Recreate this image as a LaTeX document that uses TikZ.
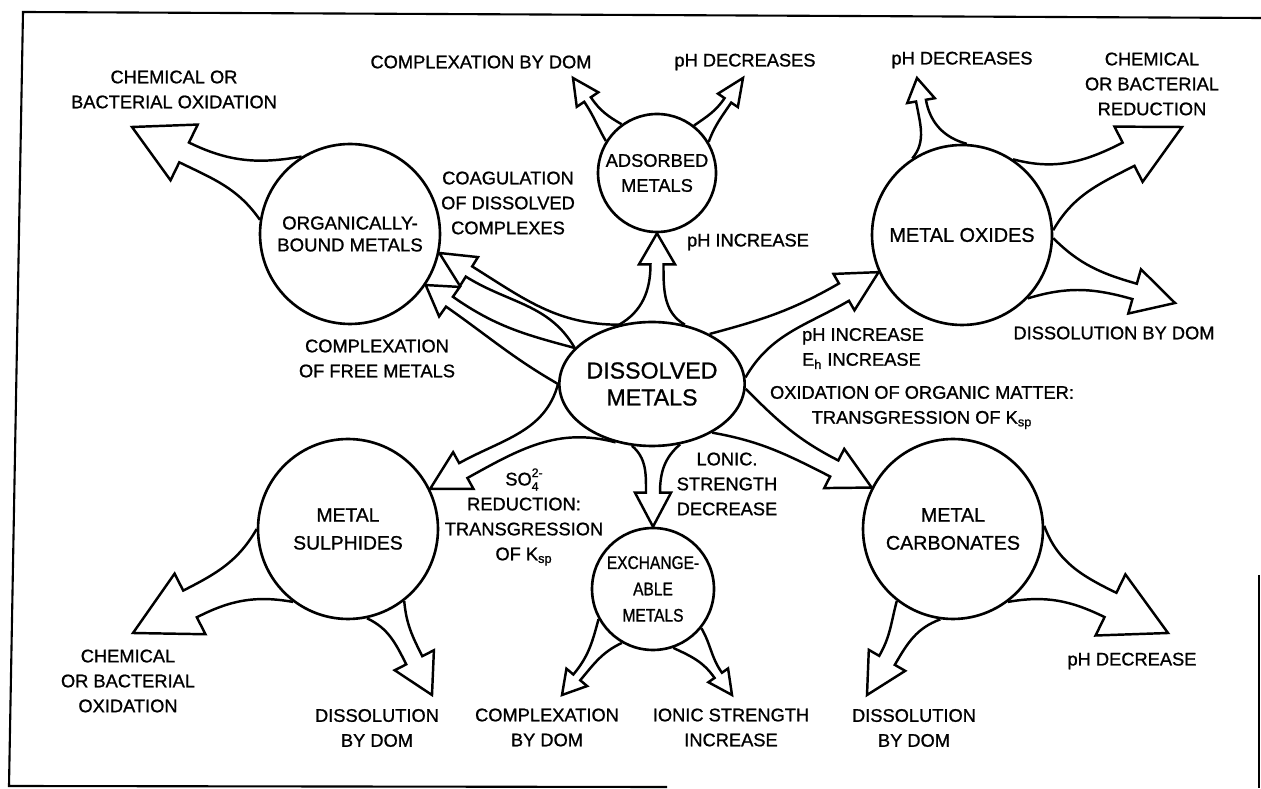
\documentclass[tikz,border=0pt]{standalone}
\usepackage{fontspec}
\setmainfont{Liberation Sans}[FakeBold=1]
\newfontfamily\narrowsans{Liberation Sans}[FakeStretch=0.85, FakeBold=1]
\usetikzlibrary{positioning,calc,shapes.geometric}

\tikzset{
  tipsize/.code args={#1/#2/#3}{\def\ahl{#1}\def\ahw{#2}\def\asw{#3}},
  bigarrow/.style={line width=1.4pt, line join=miter},
  pool/.style={circle, draw, line width=1.5pt, inner sep=0pt, align=center},
  lab/.style={align=center, inner sep=1pt},
}

% hollow arrow: [size] src, left flare angle, its out angle, right flare angle, its out angle, tip, direction
\newcommand{\fatarrow}[8][]{%
  \begin{scope}[#1]
    \pgfmathsetmacro\fdb{#8+180}%
    \pgfmathsetmacro\fdl{#8+90}%
    \pgfmathsetmacro\fdr{#8-90}%
    \path (#7) ++(\fdb:\ahl) coordinate (c);
    \draw[bigarrow] (#2.#3) to[out=#4,in=\fdb] ($(c)+(\fdl:\asw)$) -- ($(c)+(\fdl:\ahw)$)
      -- (#7) -- ($(c)+(\fdr:\ahw)$) -- ($(c)+(\fdr:\asw)$) to[out=\fdb,in=#6] (#2.#5);
  \end{scope}}

\begin{document}
\begin{tikzpicture}[x=0.02cm, y=0.02cm, font=\fontsize{10.4}{14.2}\selectfont]
  \useasboundingbox (0,0) rectangle (1261,788);
  \draw[line width=1.2pt] (1261,770) -- (23,776) -- (9,2) -- (667,1);
  \draw[line width=1.2pt] (1259,213) -- (1259,0);

  % pools
  \node[pool, minimum size=3.6cm, font=\fontsize{10.6}{12.5}\selectfont] (org) at (350,554) {ORGANICALLY-\\BOUND METALS};
  \node[pool, minimum size=2.36cm] (ads) at (657,615) {ADSORBED\\METALS};
  \node[ellipse, draw, line width=1.5pt, inner sep=0pt, minimum width=3.52cm, minimum height=2.48cm,
        align=center, font=\fontsize{13.2}{15.3}\selectfont] (dis) at (652,404) {DISSOLVED\\METALS};
  \node[pool, minimum size=3.6cm, font=\fontsize{11.3}{15}\selectfont] (oxi) at (962,553) {METAL OXIDES};
  \node[pool, minimum size=3.6cm, font=\fontsize{11}{15.9}\selectfont] (sul) at (348,259) {METAL\\SULPHIDES};
  \node[pool, minimum size=2.44cm, font=\narrowsans\fontsize{10.4}{15}\selectfont] (exc) at (653,199) {EXCHANGE-\\ABLE\\METALS};
  \node[pool, minimum size=3.6cm, font=\fontsize{11.2}{15.9}\selectfont] (car) at (953,259) {METAL\\CARBONATES};

  % free ends
  \coordinate (tOrgOx) at (132,661);
  \coordinate (tAdsCx) at (573,710);
  \coordinate (tAdsPh) at (743,710);
  \coordinate (tOxiPh) at (917,710);
  \coordinate (tOxiRed) at (1182,661);
  \coordinate (tOxiDom) at (1175,485);
  \coordinate (tSulOx) at (133,155);
  \coordinate (tSulDom) at (432,93);
  \coordinate (tExcCx) at (562,93);
  \coordinate (tExcIo) at (732,93);
  \coordinate (tCarDom) at (867,93);
  \coordinate (tCarPh) at (1168,155);

  % from dissolved metals
  \fatarrow[tipsize=31/18/6.5]{dis}{119}{30}{61}{150}{ads.270}{90}
  \fatarrow[tipsize=40/21/10]{dis}{41}{15}{4}{60}{oxi.204}{30}
  \fatarrow[tipsize=42/22/9]{dis}{357}{315}{321}{350}{car.153}{333}
  \fatarrow[tipsize=34/18/7]{dis}{295}{220}{252}{320}{exc.90}{270}
  \fatarrow[tipsize=38/21/8.5]{dis}{238}{165}{180}{255}{sul.26}{209}
  \fatarrow[tipsize=35/17/6]{dis}{155}{120}{119}{180}{org.348}{148}
  \fatarrow[tipsize=29/18/6]{dis}{180}{150}{155}{165}{org.326}{145}

  % out of the pools
  \fatarrow[tipsize=58/31/11]{org}{171}{125}{122}{190}{tOrgOx}{154}
  \fatarrow[tipsize=26/13/4]{ads}{148}{120}{126}{150}{tAdsCx}{124}
  \fatarrow[tipsize=27/12/4]{ads}{52}{35}{31}{70}{tAdsPh}{56}
  \fatarrow[tipsize=23/14/5]{oxi}{123}{50}{87}{165}{tOxiPh}{100}
  \fatarrow[tipsize=60/31/13]{oxi}{56}{345}{3}{60}{tOxiRed}{27}
  \fatarrow[tipsize=42/23/8]{oxi}{358}{315}{316}{17}{tOxiDom}{344}
  \fatarrow[tipsize=64/34/15]{sul}{233}{170}{180}{240}{tSulOx}{207}
  \fatarrow[tipsize=39/22/9]{sul}{308}{275}{282}{335}{tSulDom}{297}
  \fatarrow[tipsize=23/13.5/4.5]{exc}{240}{205}{209}{255}{tExcCx}{230}
  \fatarrow[tipsize=24/12/4.5]{exc}{321}{300}{289}{335}{tExcIo}{305}
  \fatarrow[tipsize=40/21/9]{car}{262}{200}{232}{255}{tCarDom}{240}
  \fatarrow[tipsize=64/34/13.5]{car}{2}{290}{307}{10}{tCarPh}{334}

  % labels
  \node[lab] (lOrgOx) at (174,698.5) {CHEMICAL OR\\BACTERIAL OXIDATION};
  \node[lab] (lAdsCx) at (481,726) {COMPLEXATION BY DOM};
  \node[lab] (lAdsPh) at (745,726) {pH DECREASES};
  \node[lab] (lOxiPh) at (962,728) {pH DECREASES};
  \node[lab] (lOxiRed) at (1152,704) {CHEMICAL\\OR BACTERIAL\\REDUCTION};
  \node[lab] (lOxiDom) at (1114,455) {DISSOLUTION BY DOM};
  \node[lab] (lCoag) at (508,585) {COAGULATION\\OF DISSOLVED\\COMPLEXES};
  \node[lab] (lAdsIn) at (748,546) {pH INCREASE};
  \node[lab, anchor=west, align=left] (lOxiIn) at (800,439.5) {pH INCREASE\\E\textsubscript{h} INCREASE};
  \node[lab] (lCarIn) at (922,380.5) {OXIDATION OF ORGANIC MATTER:\\TRANSGRESSION OF K\textsubscript{sp}};
  \node[lab] (lCpx) at (377,429.5) {COMPLEXATION\\OF FREE METALS};
  \node[lab] (lSulIn) at (524,271) {SO\raisebox{-0.55ex}{\scriptsize\shortstack[l]{2-\\4}}\\REDUCTION:\\TRANSGRESSION\\OF K\textsubscript{sp}};
  \node[lab] (lExcIn) at (727,304) {LONIC.\\STRENGTH\\DECREASE};
  \node[lab] (lSulOx) at (128,107) {CHEMICAL\\OR BACTERIAL\\OXIDATION};
  \node[lab] (lSulDom) at (377,60) {DISSOLUTION\\BY DOM};
  \node[lab] (lExcCx) at (547,60.5) {COMPLEXATION\\BY DOM};
  \node[lab] (lExcIo) at (731,60.5) {IONIC STRENGTH\\INCREASE};
  \node[lab] (lCarDom) at (914,60) {DISSOLUTION\\BY DOM};
  \node[lab] (lCarPh) at (1132,127) {pH DECREASE};
\end{tikzpicture}
\end{document}
